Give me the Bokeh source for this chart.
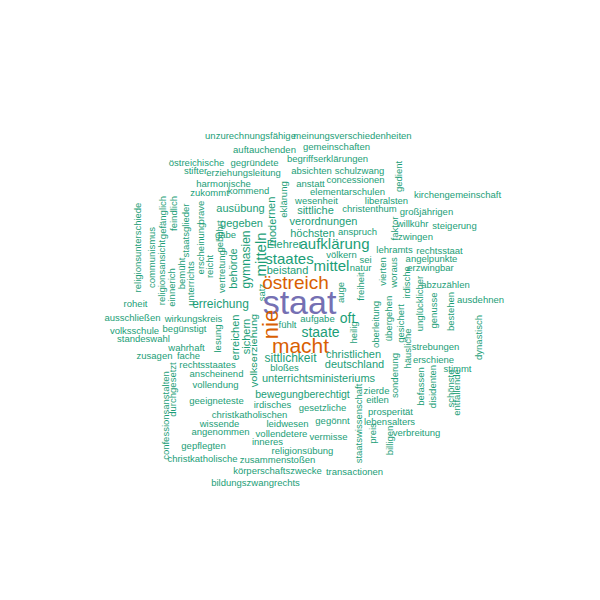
from math import pi
from bokeh.plotting import figure
from bokeh.models import ColumnDataSource, Range1d
from bokeh.core.properties import value
from bokeh.embed import file_html
from bokeh.resources import INLINE

# wort, x, y, schriftgröße (px), senkrecht?
H = [
    ("unzurechnungsfähige", 250, 135), ("meinungsverschiedenheiten", 352, 135),
    ("auftauchenden", 264, 149), ("gemeinschaften", 336, 146),
    ("begriffserklärungen", 327, 158), ("östreichische", 196, 162),
    ("gegründete", 254, 162), ("stifter", 195, 170), ("erziehungsleitung", 243, 172),
    ("absichten", 311, 170), ("schulzwang", 359, 170), ("harmonische", 223, 183),
    ("anstatt", 310, 183), ("concessionen", 355, 179), ("zukommt", 209, 192),
    ("kommend", 248, 190), ("elementarschulen", 347, 191),
    ("kirchengemeinschaft", 457, 194), ("wesenheit", 316, 200), ("liberalsten", 386, 200),
    ("christenthum", 369, 208), ("großjährigen", 426, 211), ("willkühr", 412, 223),
    ("steigerung", 454, 225), ("anspruch", 357, 231), ("zwingen", 415, 236),
    ("lehramts", 394, 249), ("rechtsstaat", 439, 250), ("angelpunkte", 431, 258),
    ("erzwingbar", 430, 267), ("abzuzählen", 445, 284), ("ausdehnen", 480, 299),
    ("völkern", 341, 254), ("sei", 365, 259), ("natur", 360, 267), ("fühlt", 287, 324),
    ("aufgabe", 317, 318), ("bloßes", 284, 367), ("strebungen", 435, 346),
    ("erschiene", 433, 359), ("stimmt", 457, 368), ("zierde", 376, 390),
    ("eitlen", 377, 399), ("prosperität", 390, 411), ("lebensalters", 389, 421),
    ("verbreitung", 416, 432), ("transactionen", 354, 471), ("gesetzliche", 322, 407),
    ("gegönnt", 332, 420), ("vermisse", 328, 436), ("religionsübung", 302, 450),
    ("zusammenstoßen", 277, 459), ("körperschaftszwecke", 277, 470),
    ("bildungszwangrechts", 255, 482), ("christkatholische", 202, 458),
    ("gepflegten", 203, 445), ("angenommen", 220, 431), ("inneres", 267, 441),
    ("vollendetere", 281, 433), ("wissende", 219, 423), ("leidwesen", 287, 423),
    ("christkatholischen", 249, 414), ("irdisches", 272, 404), ("geeigneteste", 216, 400),
    ("vollendung", 215, 384), ("anscheinend", 216, 373), ("wahrhaft", 186, 347),
    ("zusagen", 154, 355), ("fache", 188, 355), ("rechtsstaates", 207, 364),
    ("standeswahl", 143, 338), ("volksschule", 134, 330), ("begünstigt", 184, 328),
    ("ausschließen", 132, 317), ("wirkungskreis", 193, 318), ("roheit", 135, 303),
    ("gäbe", 225, 234),
]
V = [
    ("gedient", 398, 176), ("eklärung", 283, 199), ("faktor", 394, 228),
    ("satz", 261, 292), ("auge", 340, 292), ("freiheit", 360, 286), ("heilig", 353, 332),
    ("oberleitung", 375, 324), ("vierten", 382, 271), ("woraus", 393, 272),
    ("übergehen", 388, 318), ("irdische", 406, 282), ("gesichert", 400, 323),
    ("unglücklicher", 419, 303), ("genusse", 433, 310), ("bestehen", 450, 311),
    ("dynastisch", 478, 337), ("häusliche", 407, 348), ("sonderung", 394, 375),
    ("befassen", 420, 386), ("disidenten", 432, 386), ("schönste", 450, 388),
    ("entfallende", 456, 392), ("staatswissenschaft", 358, 423), ("preis", 372, 433),
    ("billigen", 389, 440), ("confessionsanstalten", 165, 415), ("durchgesetzt", 172, 389),
    ("lesung", 217, 338), ("vertretung", 221, 271), ("gebührt", 219, 236),
    ("reicht", 209, 266), ("erscheinung", 200, 248), ("brave", 200, 212),
    ("unterrichts", 190, 283), ("staatsglieder", 185, 230), ("bemüht", 181, 273),
    ("feindlich", 173, 213), ("gefänglich", 162, 217), ("einnerich", 171, 287),
    ("religionsansicht", 161, 272), ("communismus", 151, 257),
    ("religionsunterschiede", 137, 247),
]
# größere wörter: wort, x, y, größe, senkrecht, farbe
BIG = [
    ("staat", 299, 301, 34, False, "#7570B3"),
    ("östreich", 295, 282, 19, False, "#D95F02"),
    ("macht", 300, 345, 21, False, "#D95F02"),
    ("nie", 270, 324, 22, True, "#D95F02"),
    ("aufklärung", 334, 243, 15, False, "#1B9E77"),
    ("staates", 289, 258, 15, False, "#1B9E77"),
    ("mittel", 331, 265, 15, False, "#1B9E77"),
    ("mitteln", 260, 254, 15, True, "#1B9E77"),
    ("staate", 320, 331, 14, False, "#1B9E77"),
    ("oft", 347, 317, 14, False, "#1B9E77"),
    ("gymnasien", 245, 259, 12, True, "#1B9E77"),
    ("sittlichkeit", 290, 357, 12, False, "#1B9E77"),
    ("erreichung", 220, 303, 12, False, "#1B9E77"),
    ("christlichen", 353, 353, 11, False, "#1B9E77"),
    ("deutschland", 354, 363, 11, False, "#1B9E77"),
    ("unterrichtsministeriums", 318, 377, 11, False, "#1B9E77"),
    ("bewegungberechtigt", 302, 393, 10.5, False, "#1B9E77"),
    ("volkserziehung", 253, 350, 11, True, "#1B9E77"),
    ("sichern", 245, 336, 11, True, "#1B9E77"),
    ("erreichen", 234, 337, 11, True, "#1B9E77"),
    ("behörde", 232, 268, 11, True, "#1B9E77"),
    ("modernen", 271, 221, 11, True, "#1B9E77"),
    ("Elehrer", 284, 243, 11, False, "#1B9E77"),
    ("beistand", 287, 269, 11, False, "#1B9E77"),
    ("sittliche", 315, 209, 11, False, "#1B9E77"),
    ("verordnungen", 323, 220, 11, False, "#1B9E77"),
    ("höchsten", 312, 232, 11, False, "#1B9E77"),
    ("ausübung", 240, 207, 11, False, "#1B9E77"),
    ("gegeben", 241, 222, 11, False, "#1B9E77"),
]

words, xs, ys, sizes, angles, colors = [], [], [], [], [], []
for w, x, y in H:
    words.append(w); xs.append(x); ys.append(y); sizes.append("9.5px"); angles.append(0); colors.append("#1B9E77")
for w, x, y in V:
    words.append(w); xs.append(x); ys.append(y); sizes.append("9.5px"); angles.append(pi / 2); colors.append("#1B9E77")
for w, x, y, s, vert, c in BIG:
    words.append(w); xs.append(x); ys.append(y); sizes.append(f"{s}px"); angles.append(pi / 2 if vert else 0); colors.append(c)

src = ColumnDataSource(dict(text=words, x=xs, y=ys, size=sizes, angle=angles, color=colors))

p = figure(width=584, height=584, output_backend="svg", toolbar_location=None,
           x_range=Range1d(0, 584), y_range=Range1d(584, 0), min_border=0)
p.axis.visible = False
p.grid.visible = False
p.outline_line_color = None
p.text(x="x", y="y", text="text", angle="angle", text_font_size="size",
       text_color="color", text_align="center", text_baseline="middle",
       text_font=value("Liberation Sans"), source=src)

open("out.html", "w").write(file_html(p, INLINE))
